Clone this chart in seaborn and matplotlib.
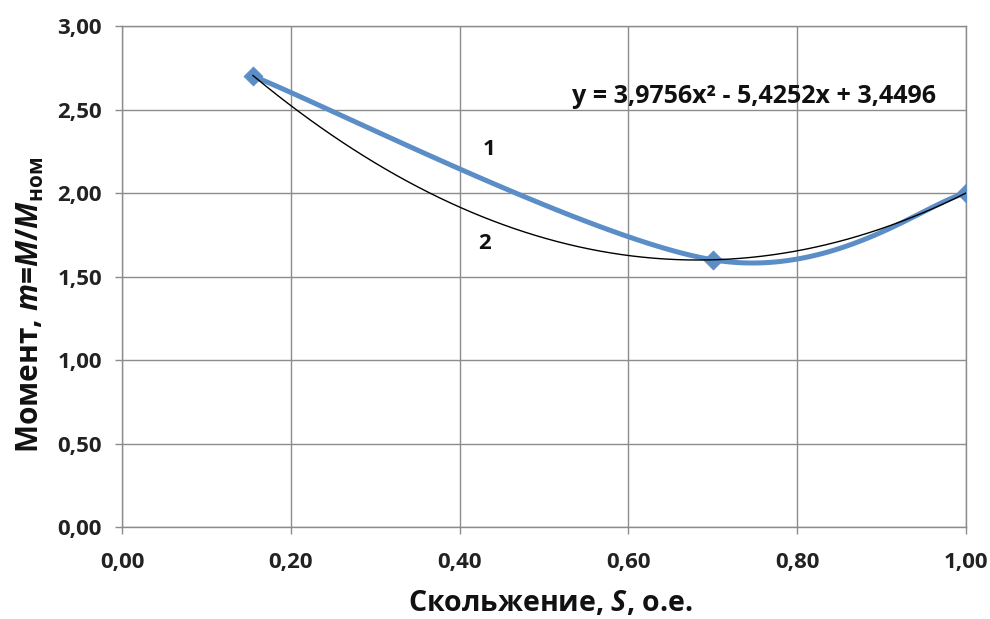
import numpy as np
import pandas as pd
import matplotlib
matplotlib.use("Agg")
import matplotlib.pyplot as plt
import seaborn as sns
from matplotlib.ticker import FuncFormatter

# ---- data ----
slip = [0.155, 0.70, 1.00]
moment = [2.70, 1.60, 2.00]
trend_coef = [3.9756, -5.4252, 3.4496]
equation_text = "y = 3,9756x² - 5,4252x + 3,4496"
curve_labels = ["1", "2"]
x_ticks = [0.0, 0.2, 0.4, 0.6, 0.8, 1.0]
y_ticks = [0.0, 0.5, 1.0, 1.5, 2.0, 2.5, 3.0]

sns.set_theme(style="white")
FONT = "Open Sans"
plt.rcParams["font.family"] = [FONT, "DejaVu Sans"]
plt.rcParams["mathtext.fontset"] = "custom"
plt.rcParams["mathtext.rm"] = f"{FONT}:bold"
plt.rcParams["mathtext.it"] = f"{FONT}:italic:bold"
plt.rcParams["mathtext.bf"] = f"{FONT}:bold"

# Excel-like smoothed line (Catmull-Rom Bezier)
P = np.column_stack([slip, moment])
segs = []
t = np.linspace(0, 1, 60)
for i in range(len(P) - 1):
    p0 = P[i]
    p3 = P[i + 1]
    prev = P[i - 1] if i > 0 else P[i]
    nxt = P[i + 2] if i + 2 < len(P) else P[i + 1]
    c1 = p0 + (p3 - prev) / 6
    c2 = p3 - (nxt - p0) / 6
    b = ((1 - t) ** 3)[:, None] * p0 + (3 * (1 - t) ** 2 * t)[:, None] * c1 \
        + (3 * (1 - t) * t ** 2)[:, None] * c2 + (t ** 3)[:, None] * p3
    segs.append(b if i == 0 else b[1:])
smooth = np.vstack(segs)
df_smooth = pd.DataFrame({"x": smooth[:, 0], "y": smooth[:, 1]})
df_pts = pd.DataFrame({"x": slip, "y": moment})

xt = np.linspace(min(slip), max(slip), 200)
df_trend = pd.DataFrame({"x": xt, "y": np.polyval(trend_coef, xt)})

fig = plt.figure(figsize=(9.9, 6.19), dpi=100)
ax = fig.add_axes([0.1232, 0.1486, 0.8526, 0.8094])

blue = "#5B8DC6"
sns.lineplot(data=df_smooth, x="x", y="y", ax=ax, color=blue, linewidth=3.6,
             sort=False, estimator=None, zorder=3)
sns.scatterplot(data=df_pts, x="x", y="y", ax=ax, color=blue, marker="D",
                s=90, edgecolor=blue, zorder=4)
sns.lineplot(data=df_trend, x="x", y="y", ax=ax, color="black", linewidth=1.0,
             sort=False, estimator=None, zorder=5)

ax.set_xlim(0, 1)
ax.set_ylim(0, 3)
ax.set_xticks(x_ticks)
ax.set_yticks(y_ticks)
fmt = FuncFormatter(lambda v, p: f"{v:.2f}".replace(".", ","))
ax.xaxis.set_major_formatter(fmt)
ax.yaxis.set_major_formatter(fmt)
ax.grid(True, color="#8C8C8C", linewidth=1.0)
ax.set_axisbelow(True)
for s in ax.spines.values():
    s.set_color("#8C8C8C")
    s.set_linewidth(1.0)
ax.tick_params(axis="both", which="major", direction="out", length=5, width=1,
               color="#8C8C8C", labelsize=16, bottom=True, left=True)
ax.tick_params(axis="x", pad=13)
ax.tick_params(axis="y", pad=9.5)
for lab in ax.get_xticklabels() + ax.get_yticklabels():
    lab.set_fontweight("bold")
    lab.set_color("#222222")

ax.set_xlabel("Скольжение, $\\mathit{S}$, о.е.", fontsize=20.5, fontweight="bold",
              color="#111111")
ax.xaxis.set_label_coords(0.508, -0.152)
ax.set_ylabel("Момент, $\\mathit{m}$=$\\mathit{M}$/$\\mathit{M}_{\\mathrm{ном}}$",
              fontsize=21.5, fontweight="bold", color="#111111")
ax.yaxis.set_label_coords(-0.109, 0.443)
ax.xaxis.label.set_va("center")
ax.yaxis.label.set_va("center")

ax.text(0.749, 2.575, equation_text, fontsize=18, fontweight="bold",
        ha="center", va="center", color="#111111")
ax.text(0.435, 2.26, curve_labels[0], fontsize=16, fontweight="bold",
        ha="center", va="center", color="#111111")
ax.text(0.43, 1.70, curve_labels[1], fontsize=16, fontweight="bold",
        ha="center", va="center", color="#111111")

fig.savefig("out.png", dpi=100)
